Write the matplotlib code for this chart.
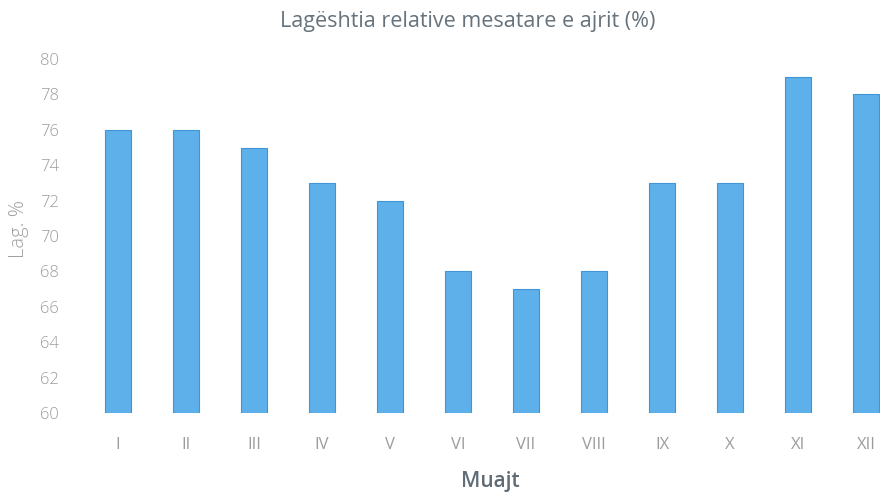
import matplotlib
matplotlib.use("Agg")
from matplotlib import pyplot as plt

# monthly mean relative humidity
months = ["I", "II", "III", "IV", "V", "VI", "VII", "VIII", "IX", "X", "XI", "XII"]
humidity = [76, 76, 75, 73, 72, 68, 67, 68, 73, 73, 79, 78]

plt.rcParams['font.family'] = ['Open Sans', 'DejaVu Sans']

fig = plt.figure(figsize=(8.8, 4.93), dpi=100)
ax = fig.add_axes([84 / 880, 80 / 493, 796 / 880, 354 / 493])

x = list(range(len(months)))
ax.bar(x, [h - 60 for h in humidity], bottom=60, width=0.37,
       color="#5eb0ea", edgecolor="#3f95d6", linewidth=0.8)

ax.set_ylim(60, 80)
ax.set_xlim(-0.5, (880 - 118) / 68)
ax.set_yticks(range(60, 81, 2))
ax.set_xticks(x)
ax.set_xticklabels(months)
ax.tick_params(length=0, colors="#9c9c9c", labelsize=12)
for lbl in ax.get_yticklabels():
    lbl.set_fontweight("light")
ax.tick_params(axis='x', pad=17)
ax.tick_params(axis='y', pad=18)
for s in ax.spines.values():
    s.set_visible(False)

fig.text(468 / 880, 1 - 22 / 493, "Lagështia relative mesatare e ajrit (%)",
         ha="center", va="center", fontsize=15.5, color="#66737d")
fig.text(490 / 880, 1 - 481 / 493, "Muajt", ha="center", va="center",
         fontsize=15, fontweight="semibold", color="#5f6b75")
fig.text(19 / 880, 1 - 229 / 493, "Lag. %", ha="center", va="center",
         rotation=90, fontsize=14.5, fontweight="light", color="#a0a0a0")

fig.savefig("out.png", dpi=100)
